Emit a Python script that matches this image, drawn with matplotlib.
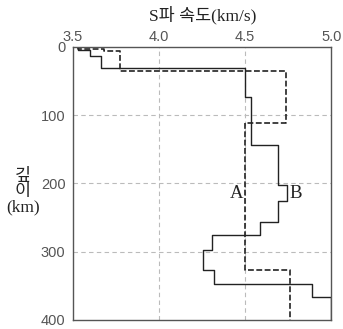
import numpy as np
import matplotlib
matplotlib.use("Agg")
import matplotlib.pyplot as plt

plt.rcParams['font.family'] = ['Noto Sans CJK KR', 'DejaVu Sans']

# layer boundaries (km) and S-wave velocity in each layer (km/s)
A_depth = [0, 3, 6, 36, 112, 327, 400]
A_vel = [3.53, 3.68, 3.775, 4.736, 4.50, 4.76]

B_depth = [0, 5, 14, 31, 74, 144, 203, 226, 257, 276, 298, 327, 348, 366, 400]
B_vel = [3.53, 3.60, 3.665, 4.50, 4.534, 4.688, 4.742, 4.688, 4.586,
         4.31, 4.255, 4.32, 4.885, 5.0]

x_ticks = [3.5, 4.0, 4.5, 5.0]
y_ticks = [0, 100, 200, 300, 400]

SERIF_KR = ['Liberation Serif', 'Noto Sans CJK KR']


def step_path(depth, vel):
    d = np.repeat(depth, 2)[1:-1]
    v = np.repeat(vel, 2)
    return v, d


fig = plt.figure(figsize=(3.43, 3.29), dpi=100)
ax = fig.add_axes([0.2114, 0.0274, 0.755, 0.83])

ax.set_xlim(3.5, 5.0)
ax.set_ylim(400, 0)
ax.xaxis.tick_top()
ax.set_xticks(x_ticks)
ax.set_xticklabels([f"{t:.1f}" for t in x_ticks])
ax.set_yticks(y_ticks)
ax.tick_params(length=0, labelsize=10.5, labelcolor="#555")
ax.tick_params(axis="x", pad=2)
ax.tick_params(axis="y", pad=5)
for lab in ax.get_xticklabels() + ax.get_yticklabels():
    lab.set_family("Liberation Sans")

for x in [4.0, 4.5]:
    ax.axvline(x, color="#bbb", lw=0.8, ls=(0, (4, 3)), zorder=0)
for y in [100, 200, 300]:
    ax.axhline(y, color="#bbb", lw=0.8, ls=(0, (4, 3)), zorder=0)

va, da = step_path(A_depth, A_vel)
ax.plot(va, da, color="#222", lw=1.2, ls=(0, (3.5, 1.5)))
vb, db = step_path(B_depth, B_vel)
ax.plot(vb, db, color="#222", lw=1.0)

ax.text(4.45, 214, "A", family="Liberation Serif", fontsize=13.5, ha="center", va="center", color="#222")
ax.text(4.795, 214, "B", family="Liberation Serif", fontsize=13.5, ha="center", va="center", color="#222")

for s in ax.spines.values():
    s.set_color("#555")
    s.set_linewidth(1.0)

fig.text(0.592, 0.954, "S파 속도(km/s)", family=SERIF_KR, ha="center", va="center",
         fontsize=12.5, color="#222")
fig.text(0.067, 0.416, "깊\n이\n(km)", family=SERIF_KR, ha="center", va="center",
         fontsize=12.5, color="#222", linespacing=0.95)

fig.savefig("out.png", dpi=100)
